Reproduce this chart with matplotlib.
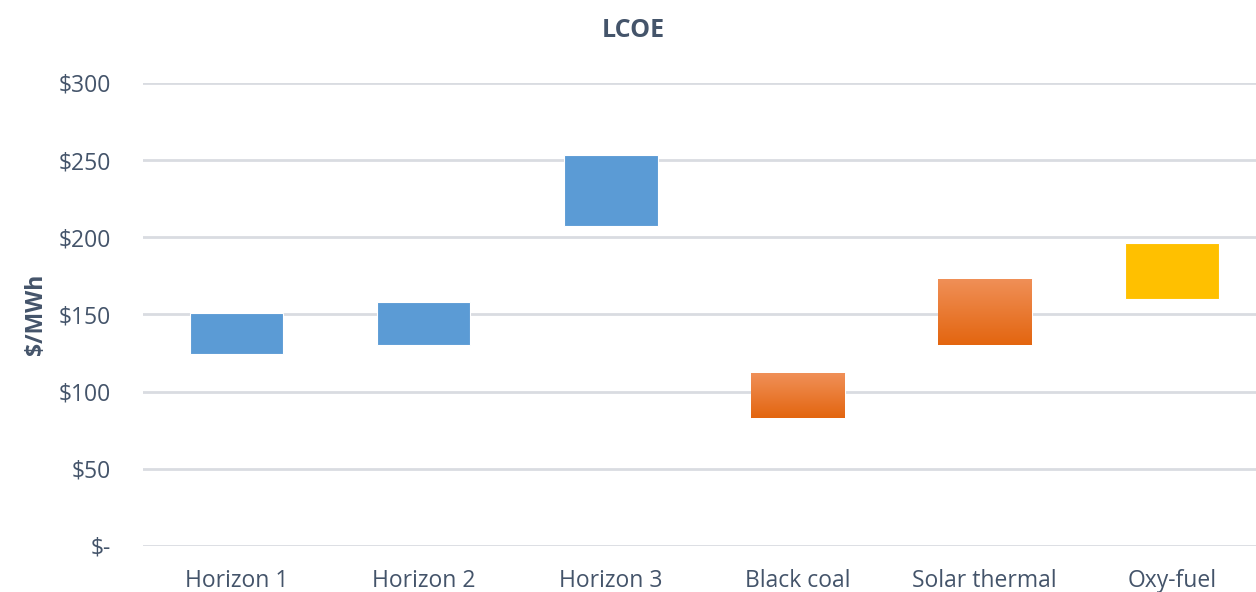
import matplotlib.pyplot as plt
import numpy as np
from matplotlib.colors import LinearSegmentedColormap

categories = ['Horizon 1', 'Horizon 2', 'Horizon 3', 'Black coal', 'Solar thermal', 'Oxy-fuel']
low = [124, 130, 207, 83, 130, 160]
high = [151, 158, 253, 112, 173, 196]
fills = ['blue', 'blue', 'blue', 'orange', 'orange', 'yellow']
yticks = [0, 50, 100, 150, 200, 250, 300]
ytick_labels = ['$-', '$50', '$100', '$150', '$200', '$250', '$300']

plt.rcParams['font.family'] = ['Open Sans', 'DejaVu Sans']
text_c = '#44546A'

fig = plt.figure(figsize=(12.56, 5.92), dpi=100)
ax = fig.add_axes([0.114, 0.078, 0.886, 0.782])

x = np.arange(len(categories))
colors = {'blue': '#5B9BD5', 'yellow': '#FFC000', 'orange': '#ED7D31'}
heights = [h - l for h, l in zip(high, low)]
bars = ax.bar(x, heights, bottom=low, width=0.5,
              color=[colors[f] for f in fills], edgecolor='white', linewidth=0.8, zorder=3)

# gradient fill for the orange bars
cmap = LinearSegmentedColormap.from_list('org', ['#E3650F', '#F09058'])
grad = np.linspace(0, 1, 256).reshape(-1, 1)
for b, f in zip(bars, fills):
    if f == 'orange':
        x0, y0 = b.get_x(), b.get_y()
        im = ax.imshow(grad, cmap=cmap, origin='lower', aspect='auto',
                       extent=[x0, x0 + b.get_width(), y0, y0 + b.get_height()], zorder=3.5)
        im.set_clip_path(b)

ax.set_xlim(-0.5, 5.45)
ax.set_ylim(0, 300)
ax.set_yticks(yticks)
ax.set_yticklabels(ytick_labels)
ax.set_xticks(x)
ax.set_xticklabels(categories)
ax.yaxis.grid(True, color='#D9DCE1', linewidth=2, zorder=0)
ax.set_axisbelow(True)
for s in ax.spines.values():
    s.set_visible(False)
ax.tick_params(length=0, labelsize=16.5)
ax.tick_params(axis='y', pad=23)
ax.tick_params(axis='x', pad=17)
for lbl in ax.get_yticklabels() + ax.get_xticklabels():
    lbl.set_color(text_c)

ax.set_ylabel('$/MWh', fontsize=16.5, fontweight='bold', color=text_c, labelpad=8)
fig.text(0.504, 0.948, 'LCOE', ha='center', va='center', fontsize=18,
         fontweight='bold', color=text_c)

fig.savefig('out.png', dpi=100)
